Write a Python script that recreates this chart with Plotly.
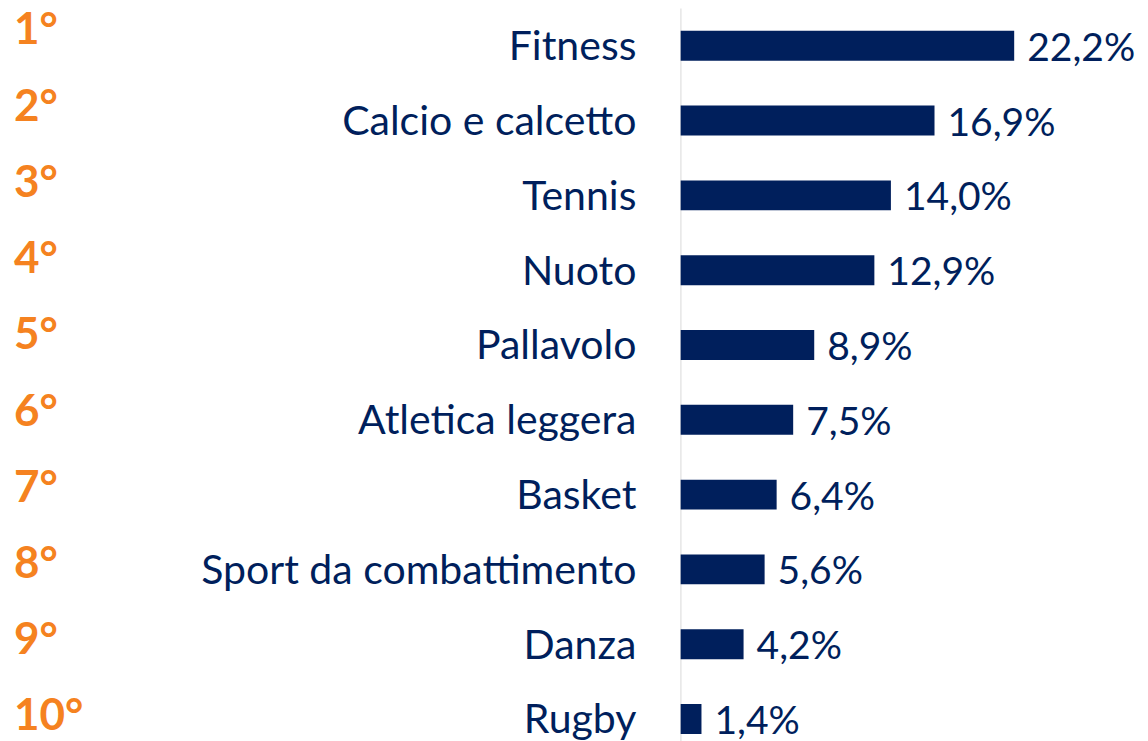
import plotly.graph_objects as go

sports = ["Fitness", "Calcio e calcetto", "Tennis", "Nuoto", "Pallavolo",
          "Atletica leggera", "Basket", "Sport da combattimento", "Danza", "Rugby"]
values = [22.2, 16.9, 14.0, 12.9, 8.9, 7.5, 6.4, 5.6, 4.2, 1.4]
ranks = ["1°", "2°", "3°", "4°", "5°", "6°", "7°", "8°", "9°", "10°"]

navy = "#001f5c"
orange = "#f58220"
font = "Lato"

# bottom to top
sports_r = sports[::-1]
values_r = values[::-1]
ranks_r = ranks[::-1]

fig = go.Figure()
fig.add_trace(go.Bar(
    x=values_r, y=sports_r, orientation="h",
    marker=dict(color=navy, line=dict(width=0)),
    width=0.4,
    texttemplate="\u00a0%{x:.1f}%", textposition="outside", constraintext="none",
    textfont=dict(family=font, size=39, color=navy),
    cliponaxis=False, hoverinfo="skip",
))
# invisible trace carrying the rank labels on a second y axis
fig.add_trace(go.Scatter(
    x=[0] * len(ranks_r), y=ranks_r, yaxis="y2", mode="markers",
    marker=dict(opacity=0), hoverinfo="skip", showlegend=False,
))

fig.add_shape(type="line", xref="x", yref="y", x0=0, x1=0, y0=-0.5, y1=9.5,
              line=dict(color="#d9d9d9", width=2), layer="below")

fig.update_layout(
    width=1148, height=741,
    margin=dict(l=0, r=0, t=0, b=0),
    paper_bgcolor="white", plot_bgcolor="white",
    separators=", ",
    showlegend=False,
    xaxis=dict(domain=[0.5927, 1], range=[0, 31.1], visible=False, fixedrange=True),
    yaxis=dict(type="category", range=[-0.294, 9.612], showgrid=False, zeroline=False,
               showline=False, ticks="", ticklabelstandoff=43,
               tickfont=dict(family=font, size=41, color=navy)),
    yaxis2=dict(type="category", overlaying="y", anchor="free", position=0, side="right",
                range=[-0.34, 9.38], showgrid=False, zeroline=False, showline=False,
                ticks="", ticklabelstandoff=13,
                tickfont=dict(family=font, size=44, color=orange, weight="bold")),
)

fig.write_html("out.html", config={"displayModeBar": False},
               post_script="document.body.style.margin='0';")
